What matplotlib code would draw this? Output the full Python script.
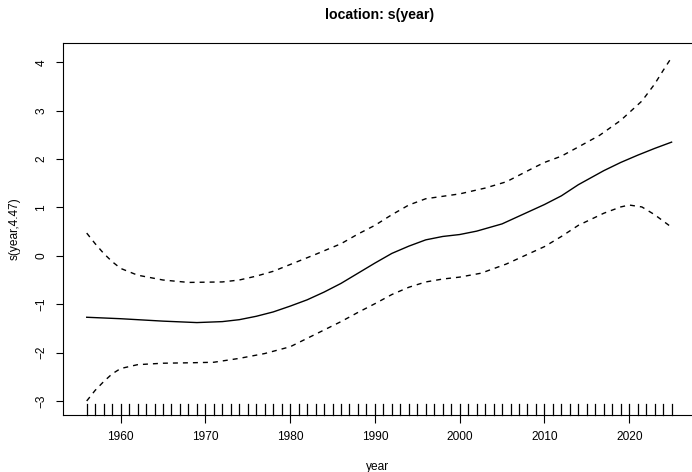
import numpy as np
import matplotlib
matplotlib.use("Agg")
import matplotlib.pyplot as plt

plt.rcParams["font.family"] = ["Liberation Sans", "DejaVu Sans"]

# smooth term s(year) and its +/- 2 se bands
fit_years = [1956, 1960, 1965, 1969, 1972, 1974, 1976, 1978, 1980, 1982, 1984, 1986,
             1988, 1990, 1992, 1994, 1996, 1998, 2000, 2002, 2005, 2008, 2010, 2012,
             2014, 2017, 2019, 2021, 2023, 2025]
fit_vals = [-1.27, -1.30, -1.35, -1.38, -1.36, -1.32, -1.25, -1.16, -1.04, -0.91, -0.75,
            -0.57, -0.36, -0.15, 0.05, 0.20, 0.33, 0.40, 0.44, 0.51, 0.66, 0.90, 1.06,
            1.24, 1.47, 1.76, 1.93, 2.08, 2.22, 2.35]

upper_years = [1956, 1957, 1958, 1959, 1960, 1962, 1965, 1968, 1972, 1974, 1976, 1978,
               1980, 1983, 1986, 1988, 1990, 1992, 1994, 1996, 1998, 2000, 2003, 2005.5,
               2008.5, 2010, 2012, 2014, 2016.5, 2019, 2021.5, 2023, 2024, 2025]
upper_vals = [0.47, 0.25, 0.05, -0.12, -0.26, -0.40, -0.50, -0.55, -0.54, -0.50, -0.42,
              -0.32, -0.18, 0.03, 0.25, 0.45, 0.63, 0.85, 1.05, 1.18, 1.23, 1.28, 1.40,
              1.53, 1.80, 1.93, 2.06, 2.25, 2.49, 2.80, 3.20, 3.55, 3.83, 4.10]

lower_years = [1956, 1957, 1958, 1959, 1960, 1962, 1965, 1968.5, 1971, 1974, 1977, 1980,
               1983, 1986, 1988, 1990, 1992, 1994, 1996, 1998, 2000, 2002.5, 2005.5,
               2008.5, 2010, 2012, 2014, 2017, 2019, 2020, 2021.5, 2023, 2024, 2025]
lower_vals = [-3.00, -2.78, -2.60, -2.44, -2.33, -2.25, -2.22, -2.21, -2.20, -2.12, -2.02,
              -1.88, -1.62, -1.36, -1.17, -0.99, -0.80, -0.65, -0.54, -0.48, -0.44, -0.36,
              -0.17, 0.07, 0.19, 0.40, 0.63, 0.88, 1.01, 1.05, 1.01, 0.85, 0.72, 0.59]

# one observation per year
rug_years = np.arange(1956, 2026)

fig = plt.figure(figsize=(6.92, 4.72), dpi=100)
ax = fig.add_axes([0.0915, 0.1208, 0.9128, 0.7887])

ax.plot(fit_years, fit_vals, color="black", lw=1.0)
ax.plot(upper_years, upper_vals, color="black", lw=1.0, dashes=(3.6, 3.6))
ax.plot(lower_years, lower_vals, color="black", lw=1.0, dashes=(3.6, 3.6))

# rug along the bottom
for yr in rug_years:
    ax.plot([yr, yr], [0, 0.03], color="black", lw=0.9,
            transform=ax.get_xaxis_transform(), clip_on=False)

ax.set_xlim(1953.24, 2027.76)
ax.set_ylim(-3.29, 4.405)
ax.set_xticks([1960, 1970, 1980, 1990, 2000, 2010, 2020])
ax.set_yticks([-3, -2, -1, 0, 1, 2, 3, 4])
ax.set_yticklabels(["\u22123", "\u22122", "\u22121", "0", "1", "2", "3", "4"])
for lab in ax.get_yticklabels():
    lab.set_rotation(90)
    lab.set_va("center")
ax.tick_params(direction="out", length=5.4, width=0.8, labelsize=8.6, pad=6)
for sp in ax.spines.values():
    sp.set_linewidth(0.8)

fig.text(0.548, 0.968, "location: s(year)", ha="center", va="center",
         fontsize=10.2, fontweight="bold")
fig.text(0.546, 0.0113, "year", ha="center", va="center", fontsize=8.6)
fig.text(0.0217, 0.515, "s(year,4.47)", ha="center", va="center",
         rotation=90, fontsize=8.6)

fig.savefig("out.png", dpi=100)
